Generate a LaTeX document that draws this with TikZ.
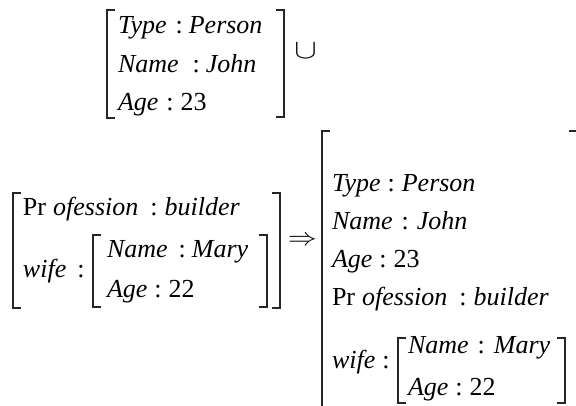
\documentclass[tikz,border=0pt]{standalone}
\usepackage{fontspec}
\setmainfont{Liberation Serif}
\usepackage{graphicx}
\begin{document}
\begin{tikzpicture}[x=1pt,y=-1pt,
  txt/.style={anchor=base west,inner sep=0pt,outer sep=0pt,font=\fontsize{26}{30}\selectfont},
  sym/.style={anchor=center,inner sep=0pt,outer sep=0pt,font=\fontsize{26}{30}\selectfont},
  brk/.style={line width=1.1pt,black!85}]
\useasboundingbox (0,0) rectangle (576,405);
\clip (0,0) rectangle (576,405);
% ---- top block
\draw[brk] (115,10) -| (107,118) -- (115,118);
\draw[brk] (276,10) -| (284,117) -- (276,117);
\node[txt] (t1) at (118,33) {\textit{Type}\hspace{9pt}:\hspace{6pt}\textit{Person}};
\node[txt] (t2) at (118,72) {\textit{Name}\hspace{14pt}:\hspace{6pt}\textit{John}};
\node[txt] (t3) at (118,110) {\textit{Age}\hspace{8pt}:\hspace{7pt}23};
\node[sym] (cup) at (305.5,50.5) {\scalebox{1.35}[1.1]{$\cup$}};
% ---- lower-left block
\draw[brk] (21,193) -| (13,308) -- (21,308);
\draw[brk] (272,193) -| (280,308) -- (272,308);
\draw[brk] (101,235) -| (93,307) -- (101,307);
\draw[brk] (259,235) -| (267,307) -- (259,307);
\node[txt] (l1) at (23,215) {Pr\hspace{7pt}\textit{ofession}\hspace{12pt}:\hspace{7pt}\textit{builder}};
\node[txt] (l2) at (23,277) {\textit{wife}\hspace{11pt}:};
\node[txt] (l3) at (107,257) {\textit{Name}\hspace{11pt}:\hspace{6pt}\textit{Mary}};
\node[txt] (l4) at (107,297) {\textit{Age}\hspace{7pt}:\hspace{7pt}22};
% ---- arrow
\node[sym] (arr) at (302.5,240.5) {\scalebox{1.17}[1]{$\Rightarrow$}};
% ---- right block
\draw[brk] (330,131) -| (322,412);
\draw[brk] (569,131) -| (577,412);
\draw[brk] (406,338) -| (398,403) -- (406,403);
\draw[brk] (557,338) -| (565,403) -- (557,403);
\node[txt] (r1) at (332,191) {\textit{Type}\hspace{7pt}:\hspace{7pt}\textit{Person}};
\node[txt] (r2) at (332,229) {\textit{Name}\hspace{9pt}:\hspace{8pt}\textit{John}};
\node[txt] (r3) at (332,267) {\textit{Age}\hspace{7pt}:\hspace{7pt}23};
\node[txt] (r4) at (332,305) {Pr\hspace{7pt}\textit{ofession}\hspace{12pt}:\hspace{7pt}\textit{builder}};
\node[txt] (r5) at (332,368) {\textit{wife}\hspace{7pt}:};
\node[txt] (r6) at (408,353) {\textit{Name}\hspace{9pt}:\hspace{9pt}\textit{Mary}};
\node[txt] (r7) at (408,395) {\textit{Age}\hspace{7pt}:\hspace{7pt}22};
\end{tikzpicture}
\end{document}
